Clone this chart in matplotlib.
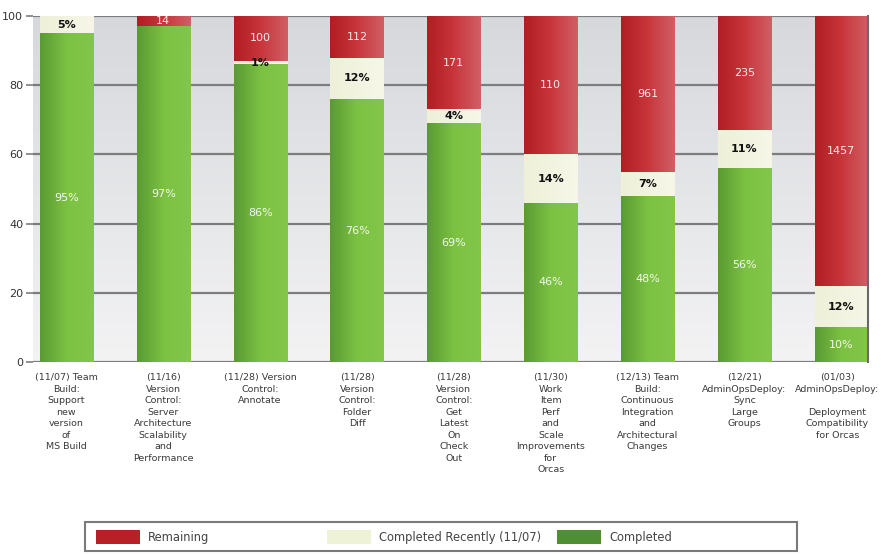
import numpy as np
import matplotlib
matplotlib.use("Agg")
import matplotlib.pyplot as plt
from matplotlib.colors import LinearSegmentedColormap
from matplotlib.patches import Rectangle
from matplotlib.transforms import ScaledTranslation

categories = [
    "(11/07) Team\nBuild:\nSupport\nnew\nversion\nof\nMS Build",
    "(11/16)\nVersion\nControl:\nServer\nArchitecture\nScalability\nand\nPerformance",
    "(11/28) Version\nControl:\nAnnotate",
    "(11/28)\nVersion\nControl:\nFolder\nDiff",
    "(11/28)\nVersion\nControl:\nGet\nLatest\nOn\nCheck\nOut",
    "(11/30)\nWork\nItem\nPerf\nand\nScale\nImprovements\nfor\nOrcas",
    "(12/13) Team\nBuild:\nContinuous\nIntegration\nand\nArchitectural\nChanges",
    "(12/21)\nAdminOpsDeploy:\nSync\nLarge\nGroups",
    "(01/03)\nAdminOpsDeploy:\n\nDeployment\nCompatibility\nfor Orcas",
]
completed = [95, 97, 86, 76, 69, 46, 48, 56, 10]
completed_recently = [5, 0, 1, 12, 4, 14, 7, 11, 12]
remaining = [0, 3, 13, 12, 27, 40, 45, 33, 78]
remaining_counts = [None, 14, 100, 112, 171, 110, 961, 235, 1457]
y_ticks = [0, 20, 40, 60, 80, 100]
legend_labels = ["Remaining", "Completed Recently (11/07)", "Completed"]

W, H = 881, 554
fig = plt.figure(figsize=(W / 100, H / 100), dpi=100)
fig.patch.set_facecolor("white")

ax_left, ax_right, ax_top, ax_bottom = 33, 868, 16, 362
ax = fig.add_axes([ax_left / W, 1 - ax_bottom / H,
                   (ax_right - ax_left) / W, (ax_bottom - ax_top) / H])

x = np.arange(len(categories))
bar_w = 0.55
xlim = (-0.345, len(categories) - 1 + 0.275)
ax.set_xlim(*xlim)
ax.set_ylim(0, 100)

# plot-area background: vertical gray gradient
bg = LinearSegmentedColormap.from_list("bg", ["#f3f3f4", "#d6d8dc"])
ax.imshow(np.linspace(0, 1, 256).reshape(-1, 1), cmap=bg, origin="lower",
          extent=[xlim[0], xlim[1], 0, 100], aspect="auto", zorder=0)

for yv in y_ticks:
    ax.axhline(yv, color="#7d7d80", lw=1.6, zorder=1)

green_cm = LinearSegmentedColormap.from_list("g", ["#5a9a32", "#7cc242", "#83c64a"])
red_cm = LinearSegmentedColormap.from_list("r", ["#b01e24", "#c8363c", "#d06066"])
cream_cm = LinearSegmentedColormap.from_list("c", ["#eef0d8", "#f6f7e8"])
grad = np.linspace(0, 1, 256).reshape(1, -1)


def gradient_bars(bottoms, heights, cmap):
    bars = ax.bar(x, heights, bar_w, bottom=bottoms, color="none",
                  edgecolor="none", zorder=2)
    for b in bars:
        if b.get_height() <= 0:
            continue
        bx, by = b.get_x(), b.get_y()
        im = ax.imshow(grad, cmap=cmap, aspect="auto", zorder=2,
                       extent=[bx, bx + b.get_width(), by, by + b.get_height()])
        im.set_clip_path(b)
    return bars


comp = np.array(completed, float)
rec = np.array(completed_recently, float)
rem = np.array(remaining, float)

gradient_bars(np.zeros_like(comp), comp, green_cm)
gradient_bars(comp, rec, cream_cm)
gradient_bars(comp + rec, rem, red_cm)
ax.set_xlim(*xlim)
ax.set_ylim(0, 100)

# right-hand frame line
ax.plot([xlim[1], xlim[1]], [0, 100], color="#6a6a6a", lw=1.5, zorder=3,
        clip_on=False)

lab_font = dict(family="DejaVu Sans", fontsize=8, ha="center", va="center",
                zorder=5)
for i in range(len(categories)):
    ax.text(x[i], comp[i] / 2, f"{completed[i]}%", color="#f4f8ee", **lab_font)
    if rec[i] > 0:
        ax.text(x[i], comp[i] + rec[i] / 2, f"{completed_recently[i]}%",
                color="#111111", fontweight="bold", **lab_font)
    if rem[i] > 0 and remaining_counts[i] is not None:
        ax.text(x[i], comp[i] + rec[i] + rem[i] / 2, str(remaining_counts[i]),
                color="#fbeaea", **lab_font)

for s in ax.spines.values():
    s.set_visible(False)
ax.set_yticks(y_ticks)
ax.tick_params(axis="y", length=5, width=1.2, color="#7d7d80",
               labelsize=8, labelcolor="#333333", pad=2)
ax.set_xticks(x)
ax.set_xticklabels(categories, fontsize=6.8, color="#3a3a3a",
                   linespacing=1.36, va="top")
ax.tick_params(axis="x", length=0, pad=8)
# keep the last category label inside the figure edge
last = ax.get_xticklabels()[-1]
last.set_transform(last.get_transform() +
                   ScaledTranslation(-4 / 100, 0, fig.dpi_scale_trans))

# legend box
lg = fig.add_axes([0, 0, 1, 1], facecolor="none")
lg.set_xlim(0, W)
lg.set_ylim(H, 0)
lg.axis("off")
lg.add_patch(Rectangle((85, 522), 712, 29, fill=False, edgecolor="#7a7a7a",
                       lw=1.5))
legend_colors = ["#b62026", "#eef2d6", "#4f8e32"]
patch_x = [96, 327, 557]
for px, col, lab in zip(patch_x, legend_colors, legend_labels):
    lg.add_patch(Rectangle((px, 530), 44, 14, facecolor=col, edgecolor="none"))
    lg.text(px + 52, 537, lab, fontsize=8.3, color="#444444", va="center",
            ha="left")

fig.savefig("out.png", dpi=100)
